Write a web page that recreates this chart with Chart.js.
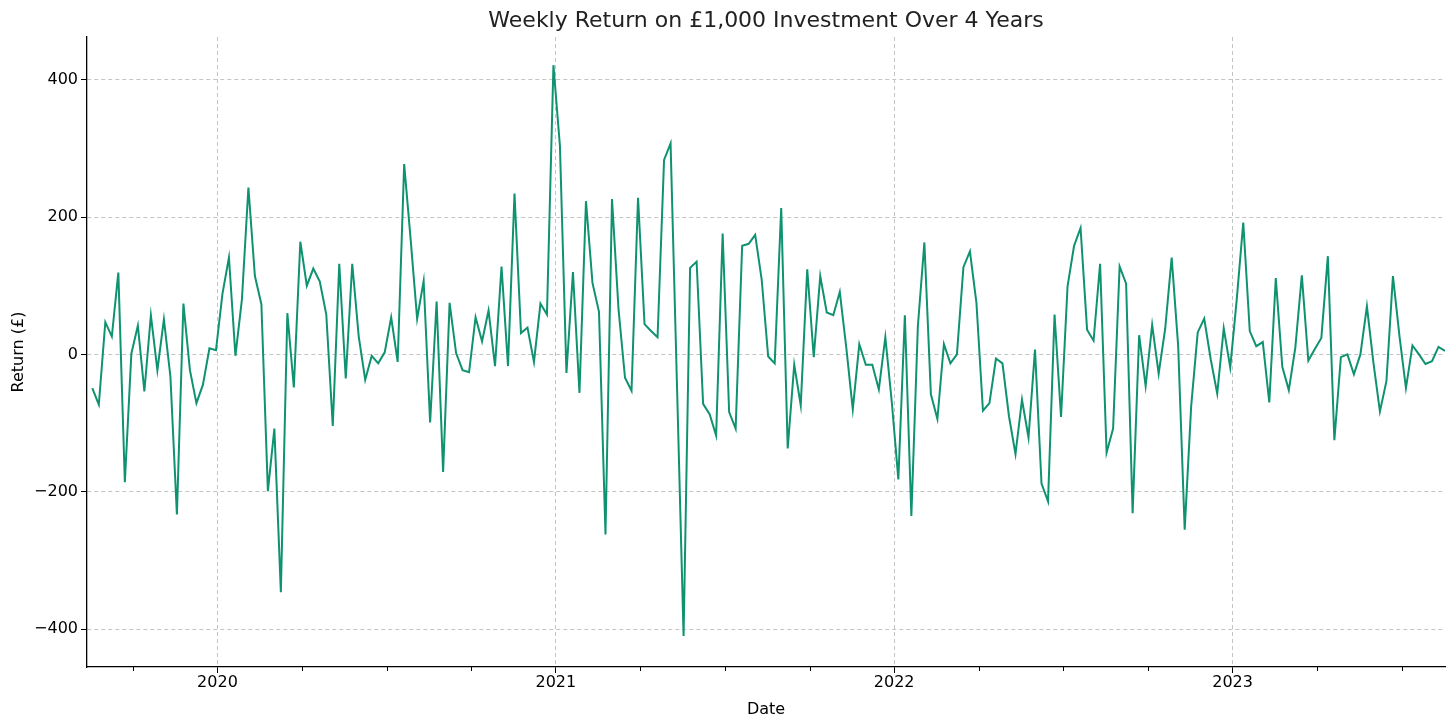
<!DOCTYPE html>
<html><head><meta charset="utf-8">
<script src="https://cdn.jsdelivr.net/npm/chart.js@4"></script>
<style>body{margin:0;background:#fff}canvas{display:block}</style>
</head><body>
<canvas id="c" width="1456" height="723"></canvas>
<script>
const startDate = '2019-08-19';
const yearTicks = [2020, 2021, 2022, 2023];
const yTicks = [-400, -200, 0, 200, 400];
const returns = [
-49,-73,47,26,119,-186,1,42,-54,57,-23,51,-32,-233,74,-23,-71,-44,9,6,88,141,-2,80,243,114,73,-199,-108,-346,60,-48,164,100,125,106,
58,-104,132,-35,132,26,-37,-2,-13,3,54,-11,277,167,52,107,-99,77,-171,75,2,-23,-26,54,19,64,-17,128,-17,234,31,39,-11,74,58,
421,303,-27,120,-56,223,104,62,-262,226,66,-34,-53,228,44,34,25,283,307,-50,-410,126,135,-72,-87,-118,176,-84,-108,158,161,174,109,-3,-13,213,
-137,-15,-74,124,-4,114,61,57,91,10,-80,15,-15,-15,-51,25,-70,-182,57,-235,41,163,-58,-94,15,-13,0,127,150,75,-82,-71,-6,-13,
-90,-145,-66,-121,7,-188,-214,58,-91,99,158,184,36,20,132,-143,-108,128,103,-231,28,-46,43,-28,37,141,12,-255,-75,32,52,-7,-57,38,-19,
80,192,34,12,18,-70,111,-18,-52,10,115,-9,8,24,143,-125,-4,0,-29,0,70,-12,-83,-39,114,27,-49,13,0,-14,-10,11,5
];
function yearFrac(d){const y=d.getUTCFullYear();const s=Date.UTC(y,0,1),e=Date.UTC(y+1,0,1);return y+(d-s)/(e-s);}
const t0=new Date(startDate+'T00:00:00Z');
const pts=returns.map((v,i)=>({x:yearFrac(new Date(t0.getTime()+i*7.02*86400000)),y:v}));
const xmin=pts[0].x-5.3/338, xmax=pts[pts.length-1].x;
const FONT='DejaVu Sans';
const deco={id:'deco',afterDraw(ch){
  const c=ch.ctx,x=ch.scales.x,a=ch.chartArea;
  c.save();c.strokeStyle='#000';c.lineWidth=1;
  for(let q=Math.ceil(xmin*4)/4;q<=xmax;q+=0.25){ if(Math.abs(q-Math.round(q))<1e-6)continue;
    const px=Math.round(x.getPixelForValue(q))+0.5;c.beginPath();c.moveTo(px,a.bottom);c.lineTo(px,a.bottom+4);c.stroke();}
  c.fillStyle='#222';c.font='22px '+FONT;c.textAlign='center';c.textBaseline='middle';
  c.fillText('Weekly Return on £1,000 Investment Over 4 Years',(a.left+a.right)/2,21);
  c.restore();}};
new Chart(document.getElementById('c'),{type:'line',
 data:{datasets:[{data:pts,borderColor:'#0f9270',borderWidth:2,pointRadius:0,tension:0,fill:false}]},
 options:{responsive:false,animation:false,layout:{padding:{top:37,right:11,left:5,bottom:0}},
  plugins:{legend:{display:false},title:{display:false},tooltip:{enabled:false}},
  scales:{
   x:{type:'linear',min:xmin,max:xmax,
     afterBuildTicks:s=>{s.ticks=yearTicks.map(v=>({value:v}));},
     afterFit:s=>{s.height=56;},
     ticks:{color:'#000',font:{family:FONT,size:16},padding:0,maxRotation:0,callback:v=>String(v)},
     grid:{color:'#c4c4c4',tickColor:'#000',tickLength:6,drawOnChartArea:true},
     border:{color:'#000',width:1.3,dash:[4,3]},
     title:{display:true,text:'Date',color:'#000',font:{family:FONT,size:16},padding:{top:0}}},
   y:{min:-455,max:462,
     afterBuildTicks:s=>{s.ticks=yTicks.map(v=>({value:v}));},
     afterFit:s=>{s.width=82;},
     ticks:{color:'#000',font:{family:FONT,size:16},padding:3,callback:v=>v<0?'\u2212'+(-v):String(v)},
     grid:{color:'#c4c4c4',tickColor:'#000',tickLength:6},
     border:{color:'#000',width:1.3,dash:[4,3]},
     title:{display:true,text:'Return (£)',color:'#000',font:{family:FONT,size:16},padding:{bottom:0}}}
  }},
 plugins:[deco]});
</script></body></html>
